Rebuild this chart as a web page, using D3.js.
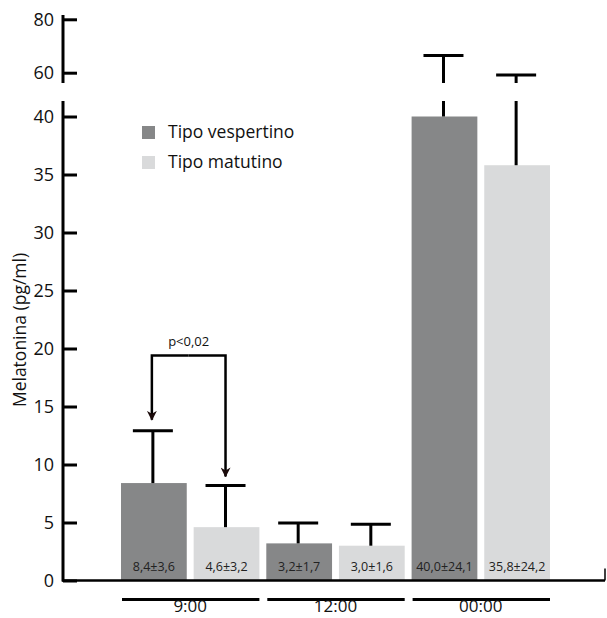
<!DOCTYPE html>
<html>
<head>
<meta charset="utf-8">
<script src="https://cdn.jsdelivr.net/npm/d3@7"></script>
<style>
  body { margin: 0; background: #fff; }
  svg text { font-family: "Open Sans", Lato, sans-serif; }
</style>
</head>
<body>
<script>
(function(){
    //data
    var times = ["9:00", "12:00", "00:00"];
    var series = ["Tipo vespertino", "Tipo matutino"];
    var vespMeans = [8.4, 3.2, 40.0];
    var matMeans = [4.6, 3.0, 35.8];
    var vespErrTop = [12.9, 4.95, 66.4];
    var matErrTop = [8.2, 4.85, 59.1];
    var vespLabels = ["8,4\u00b13,6", "3,2\u00b11,7", "40,0\u00b124,1"];
    var matLabels = ["4,6\u00b13,2", "3,0\u00b11,6", "35,8\u00b124,2"];
    var lowTicks = [0, 5, 10, 15, 20, 25, 30, 35, 40];
    var highTicks = [60, 80];
    var colors = ["#868788", "#d9dadb"];

    var width = 607, height = 618;

    var svg = d3.select("body").append("svg")
        .attr("width", width)
        .attr("height", height);

    //broken y axis: two linear scales
    var yLow = d3.scaleLinear().domain([0, 40]).range([580.5, 116.5]);
    var yHigh = d3.scaleLinear().domain([60, 80]).range([72.7, 19.3]);
    var lowMax = yLow.invert(101), highMin = yHigh.invert(83);

    //flatten bars
    var bars = [];
    times.forEach(function(t, i){
        bars.push({time: t, s: 0, mean: vespMeans[i], top: vespErrTop[i], label: vespLabels[i]});
        bars.push({time: t, s: 1, mean: matMeans[i], top: matErrTop[i], label: matLabels[i]});
    });

    var x = d3.scaleBand()
        .domain(d3.range(bars.length))
        .range([121, 550])
        .paddingInner(0.095)
        .paddingOuter(0);

    function yVal(v){ return v <= lowMax ? yLow(v) : yHigh(v); }
    function cx(i){ return x(i) + x.bandwidth() / 2 - 1; }

    //bars
    svg.selectAll(".bar")
        .data(bars)
        .enter()
        .append("rect")
        .attr("class", "bar")
        .attr("x", function(d, i){ return x(i); })
        .attr("width", x.bandwidth())
        .attr("y", function(d){ return yLow(d.mean); })
        .attr("height", function(d){ return yLow(0) - yLow(d.mean); })
        .style("fill", function(d){ return colors[d.s]; });

    //baseline
    svg.append("line")
        .attr("x1", 62).attr("x2", 605)
        .attr("y1", yLow(0)).attr("y2", yLow(0))
        .attr("stroke", "#000").attr("stroke-width", 2.5);
    svg.append("line")
        .attr("x1", 605).attr("x2", 605)
        .attr("y1", yLow(0)).attr("y2", yLow(0) - 12)
        .attr("stroke", "#000").attr("stroke-width", 1.5);

    //value labels inside bars
    svg.selectAll(".valLabel")
        .data(bars)
        .enter()
        .append("text")
        .attr("class", "valLabel")
        .attr("x", function(d, i){ return x(i) + x.bandwidth() / 2; })
        .attr("y", 571)
        .attr("text-anchor", "middle")
        .style("font-size", "12.5px")
        .style("fill", "#222")
        .text(function(d){ return d.label; });

    //error bars
    var err = svg.selectAll(".err")
        .data(bars)
        .enter()
        .append("g")
        .attr("class", "err")
        .attr("stroke", "#000")
        .attr("stroke-width", 3);

    err.append("line")
        .attr("x1", function(d, i){ return cx(i); })
        .attr("x2", function(d, i){ return cx(i); })
        .attr("y1", function(d){ return yLow(d.mean); })
        .attr("y2", function(d){ return d.top <= lowMax ? yLow(d.top) : yLow(lowMax); });

    err.filter(function(d){ return d.top > lowMax; })
        .append("line")
        .attr("x1", function(d){ return cx(bars.indexOf(d)); })
        .attr("x2", function(d){ return cx(bars.indexOf(d)); })
        .attr("y1", yHigh(highMin))
        .attr("y2", function(d){ return yHigh(d.top); });

    err.append("line")
        .attr("x1", function(d, i){ return cx(i) - 20; })
        .attr("x2", function(d, i){ return cx(i) + 20; })
        .attr("y1", function(d){ return yVal(d.top); })
        .attr("y2", function(d){ return yVal(d.top); });

    //y axes (lower and upper parts)
    var axisLow = d3.axisRight(yLow).tickValues(lowTicks).tickSize(14).tickFormat("");
    var axisHigh = d3.axisRight(yHigh).tickValues(highTicks).tickSize(14).tickFormat("");

    [[axisLow, yLow, lowTicks, 101], [axisHigh, yHigh, highTicks, 15]].forEach(function(a, k){
        var g = svg.append("g")
            .attr("class", "axis")
            .attr("transform", "translate(63,0)")
            .call(a[0]);
        g.select(".domain").remove();
        g.selectAll(".tick line").attr("stroke", "#000").attr("stroke-width", 3);
        g.append("line")
            .attr("x1", 0).attr("x2", 0)
            .attr("y1", k == 0 ? yLow(0) + 1 : 83)
            .attr("y2", a[3])
            .attr("stroke", "#000").attr("stroke-width", 3);
        svg.selectAll(null)
            .data(a[2])
            .enter()
            .append("text")
            .attr("x", 54)
            .attr("y", function(d){ return a[1](d); })
            .attr("dy", "0.36em")
            .attr("text-anchor", "end")
            .style("font-size", "18px")
            .style("fill", "#111")
            .text(function(d){ return d; });
    });

    //y axis title
    svg.append("text")
        .attr("transform", "translate(26,330) rotate(-90)")
        .attr("text-anchor", "middle")
        .style("font-size", "17.5px")
        .style("fill", "#111")
        .text("Melatonina (pg/ml)");

    //group underlines and labels
    times.forEach(function(t, i){
        var x0 = x(i * 2), x1 = x(i * 2 + 1) + x.bandwidth();
        svg.append("line")
            .attr("x1", x0 + 1).attr("x2", x1)
            .attr("y1", 599.5).attr("y2", 599.5)
            .attr("stroke", "#000").attr("stroke-width", 3);
        svg.append("text")
            .attr("x", (x0 + x1) / 2)
            .attr("y", 612)
            .attr("text-anchor", "middle")
            .style("font-size", "17px")
            .style("fill", "#111")
            .text(t);
    });

    //legend
    var legend = svg.selectAll(".legend")
        .data(series)
        .enter()
        .append("g")
        .attr("class", "legend")
        .attr("transform", function(d, i){ return "translate(142," + (126 + i * 30) + ")"; });
    legend.append("rect")
        .attr("width", 13).attr("height", 13)
        .style("fill", function(d, i){ return colors[i]; });
    legend.append("text")
        .attr("x", 26).attr("y", 12)
        .style("font-size", "17.5px")
        .style("fill", "#111")
        .text(function(d){ return d; });

    //significance bracket for 9:00
    var cx0 = cx(0) - 1, cx1 = cx(1);
    var by = yLow(19.4);
    svg.append("defs").append("marker")
        .attr("id", "arrow")
        .attr("viewBox", "0 0 10 10")
        .attr("refX", 9).attr("refY", 5)
        .attr("markerWidth", 4).attr("markerHeight", 4)
        .attr("orient", "auto")
        .append("path")
        .attr("d", "M0,0 L10,5 L0,10 L3,5 Z")
        .attr("fill", "#1a0a0a");
    svg.append("path")
        .attr("d", "M" + (cx0 + cx1) / 2 + "," + by + " L" + cx0 + "," + by +
            " L" + cx0 + "," + (yLow(bars[0].top) - 11))
        .attr("fill", "none")
        .attr("stroke", "#000")
        .attr("stroke-width", 2.5)
        .attr("marker-end", "url(#arrow)");
    svg.append("path")
        .attr("d", "M" + (cx0 + cx1) / 2 + "," + by + " L" + cx1 + "," + by +
            " L" + cx1 + "," + (yLow(bars[1].top) - 9))
        .attr("fill", "none")
        .attr("stroke", "#000")
        .attr("stroke-width", 2.5)
        .attr("marker-end", "url(#arrow)");
    svg.append("text")
        .attr("x", (cx0 + cx1) / 2)
        .attr("y", by - 9)
        .attr("text-anchor", "middle")
        .style("font-size", "13px")
        .style("fill", "#111")
        .text("p<0,02");
})();
</script>
</body>
</html>
